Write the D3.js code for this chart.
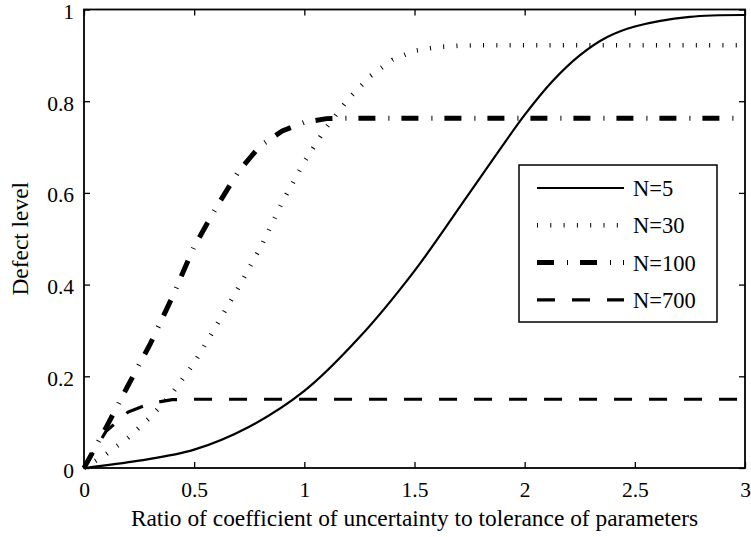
<!DOCTYPE html>
<html>
<head>
<meta charset="utf-8">
<script src="https://cdn.jsdelivr.net/npm/d3@7"></script>
<style>
  body { margin: 0; background: #fff; }
</style>
</head>
<body>
<script>
// curves
var xN5 = [0, 0.25, 0.5, 0.75, 1.0, 1.25, 1.5, 1.75, 2.0, 2.125, 2.25, 2.375, 2.5, 2.75, 3.0]
var yN5 = [0, 0.016, 0.04, 0.09, 0.168, 0.285, 0.43, 0.6, 0.77, 0.843, 0.9, 0.94, 0.963, 0.984, 0.988]

var xN30 = [0, 0.1, 0.2, 0.3, 0.4, 0.5, 0.6, 0.7, 0.8, 0.9, 1.0, 1.1, 1.2, 1.3, 1.4, 1.5, 1.6, 1.7, 1.8, 3.0]
var yN30 = [0, 0.03, 0.066, 0.11, 0.163, 0.229, 0.31, 0.393, 0.48, 0.58, 0.668, 0.743, 0.805, 0.855, 0.89, 0.91, 0.918, 0.921, 0.922, 0.922]

var xN100 = [0, 0.1, 0.2, 0.3, 0.4, 0.5, 0.6, 0.7, 0.8, 0.9, 1.0, 1.1, 1.2, 3.0]
var yN100 = [0, 0.088, 0.18, 0.27, 0.372, 0.483, 0.568, 0.646, 0.703, 0.735, 0.754, 0.762, 0.763, 0.763]

var xN700 = [0, 0.05, 0.1, 0.2, 0.3, 0.4, 0.5, 3.0]
var yN700 = [0, 0.04, 0.08, 0.122, 0.141, 0.149, 0.15, 0.15]

var seriesNames = ["N=5", "N=30", "N=100", "N=700"]
var xTicks = [0, 0.5, 1, 1.5, 2, 2.5, 3]
var yTicks = [0, 0.2, 0.4, 0.6, 0.8, 1]

var serif = "'Liberation Serif', 'Times New Roman', 'DejaVu Serif', serif"

var margin = { top: 9.5, right: 6, bottom: 69, left: 84 },
    width = 751 - margin.left - margin.right,
    height = 537 - margin.top - margin.bottom

var styles = [
  { w: 2.2, dash: null, curve: d3.curveCatmullRom },
  { w: 4.6, dash: "1,12.3", curve: d3.curveLinear },
  { w: 5, dash: "17,13,1,12", curve: d3.curveLinear },
  { w: 3.2, dash: "18,17", curve: d3.curveLinear }
]

var series = [
  xN5.map(function(d, i) { return [d, yN5[i]] }),
  xN30.map(function(d, i) { return [d, yN30[i]] }),
  xN100.map(function(d, i) { return [d, yN100[i]] }),
  xN700.map(function(d, i) { return [d, yN700[i]] })
]

var svg = d3.select("body").append("svg")
    .attr("width", 751)
    .attr("height", 537)
  .append("g")
    .attr("transform", "translate(" + margin.left + "," + margin.top + ")")

var x = d3.scaleLinear().domain([0, 3]).range([0, width])
var y = d3.scaleLinear().domain([0, 1]).range([height, 0])

var fmt = function(d) { return String(d) }

// axes, ticks pointing in
var xAxis = svg.append("g").attr("transform", "translate(0," + height + ")")
  .call(d3.axisBottom(x).tickValues(xTicks).tickFormat(fmt).tickSizeInner(-6).tickSizeOuter(0).tickPadding(14))
var yAxis = svg.append("g")
  .call(d3.axisLeft(y).tickValues(yTicks).tickFormat(fmt).tickSizeInner(-6).tickSizeOuter(0).tickPadding(10))
svg.append("g")
  .call(d3.axisTop(x).tickValues(xTicks).tickFormat("").tickSizeInner(-6).tickSizeOuter(0))
svg.append("g").attr("transform", "translate(" + width + ",0)")
  .call(d3.axisRight(y).tickValues(yTicks).tickFormat("").tickSizeInner(-6).tickSizeOuter(0))

svg.selectAll(".domain").remove()
svg.selectAll("g").attr("font-family", null).attr("font-size", null)
svg.selectAll(".tick line").attr("stroke", "#000").attr("stroke-width", 1.3)
svg.selectAll(".tick text").style("font-family", serif).style("font-size", "21.5px").attr("fill", "#000")
yAxis.selectAll(".tick text").attr("dy", "0.42em")

var line = function(c) {
  return d3.line().x(function(d) { return x(d[0]) }).y(function(d) { return y(d[1]) }).curve(c)
}

svg.selectAll(".series")
  .data(series)
  .enter().append("path")
  .attr("class", "series")
  .attr("d", function(d, i) { return line(styles[i].curve)(d) })
  .attr("fill", "none")
  .attr("stroke", "#000")
  .attr("stroke-width", function(d, i) { return styles[i].w })
  .attr("stroke-dasharray", function(d, i) { return styles[i].dash })

// frame
svg.append("rect")
  .attr("width", width).attr("height", height)
  .attr("fill", "none").attr("stroke", "#000").attr("stroke-width", 1.8)

// labels
svg.append("text")
  .attr("x", width / 2).attr("y", height + 58)
  .attr("text-anchor", "middle")
  .style("font-family", serif).style("font-size", "23.4px")
  .text("Ratio of coefficient of uncertainty to tolerance of parameters")

svg.append("text")
  .attr("transform", "translate(" + (-56) + "," + (height / 2) + ") rotate(-90)")
  .attr("text-anchor", "middle")
  .style("font-family", serif).style("font-size", "23.4px")
  .text("Defect level")

// legend
var legend = svg.append("g").attr("transform", "translate(" + (519 - margin.left) + "," + (165 - margin.top) + ")")
legend.append("rect")
  .attr("width", 198).attr("height", 157)
  .attr("fill", "#fff").attr("stroke", "#000").attr("stroke-width", 1.5)

var rows = legend.selectAll(".legend")
  .data(seriesNames)
  .enter().append("g")
  .attr("class", "legend")
  .attr("transform", function(d, i) { return "translate(0," + (23 + i * 37.3) + ")" })

rows.append("line")
  .attr("x1", 18).attr("x2", 105)
  .attr("stroke", "#000")
  .attr("stroke-width", function(d, i) { return styles[i].w })
  .attr("stroke-dasharray", function(d, i) { return styles[i].dash })

rows.append("text")
  .attr("x", 114).attr("dy", "0.36em")
  .style("font-family", serif).style("font-size", "22.5px")
  .text(function(d) { return d })
</script>
</body>
</html>
